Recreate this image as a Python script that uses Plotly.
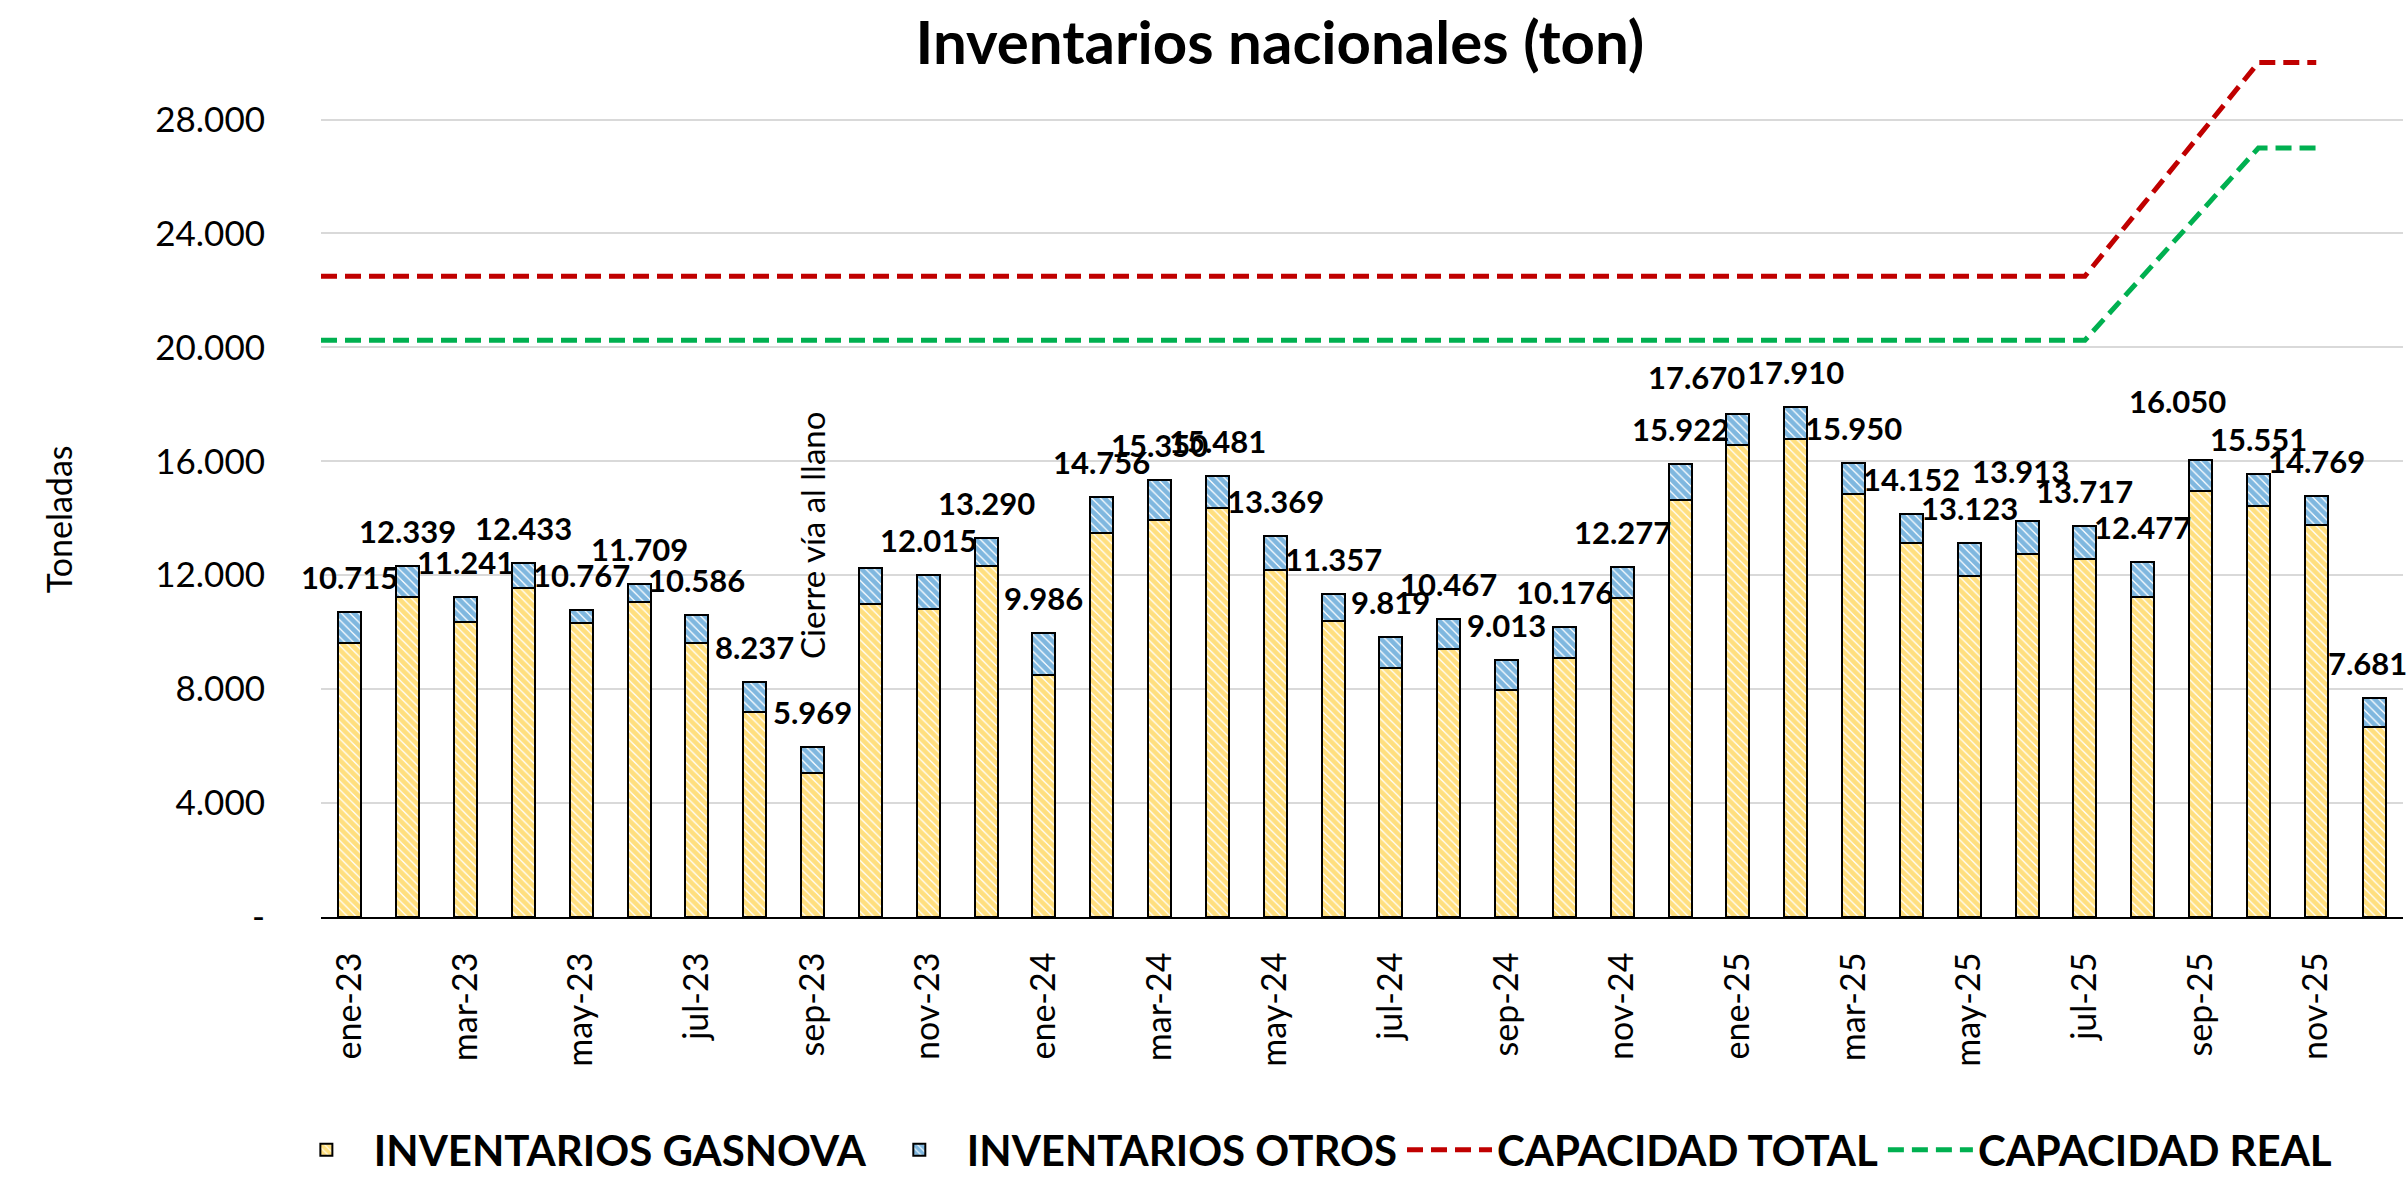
import plotly.graph_objects as go

# ---------------- data ----------------
months = ["ene-23", "feb-23", "mar-23", "abr-23", "may-23", "jun-23", "jul-23", "ago-23", "sep-23", "oct-23", "nov-23", "dic-23",
          "ene-24", "feb-24", "mar-24", "abr-24", "may-24", "jun-24", "jul-24", "ago-24", "sep-24", "oct-24", "nov-24", "dic-24",
          "ene-25", "feb-25", "mar-25", "abr-25", "may-25", "jun-25", "jul-25", "ago-25", "sep-25", "oct-25", "nov-25", "dic-25"]

inv_gasnova = [9625, 11249, 10371, 11563, 10307, 11049, 9636, 7187, 5069, 11000, 10805, 12340,
               8496, 13496, 13940, 14351, 12199, 10387, 8729, 9407, 7963, 9086, 11217, 14632,
               16560, 16800, 14840, 13122, 11973, 12743, 12577, 11247, 14940, 14441, 13769, 6681]

inv_otros = [1090, 1090, 870, 870, 460, 660, 950, 1050, 900, 1260, 1210, 950,
             1490, 1260, 1410, 1130, 1170, 970, 1090, 1060, 1050, 1090, 1060, 1290,
             1110, 1110, 1110, 1030, 1150, 1170, 1140, 1230, 1110, 1110, 1000, 1000]

# months with a printed total label (oct-23 carries the note instead)
show_label = [True, True, True, True, True, True, True, True, True, False, True, True,
              True, True, True, True, True, True, True, True, True, True, True, True,
              True, True, True, True, True, True, True, True, True, True, True, True]

cap_total = [22500, 22500, 22500, 22500, 22500, 22500, 22500, 22500, 22500, 22500, 22500, 22500,
             22500, 22500, 22500, 22500, 22500, 22500, 22500, 22500, 22500, 22500, 22500, 22500,
             22500, 22500, 22500, 22500, 22500, 22500, 22500, 25000, 27500, 30000, 30000, None]

cap_real = [20250, 20250, 20250, 20250, 20250, 20250, 20250, 20250, 20250, 20250, 20250, 20250,
            20250, 20250, 20250, 20250, 20250, 20250, 20250, 20250, 20250, 20250, 20250, 20250,
            20250, 20250, 20250, 20250, 20250, 20250, 20250, 22500, 24750, 27000, 27000, None]

y_tickvals = [0, 4000, 8000, 12000, 16000, 20000, 24000, 28000]
y_ticktext = ["-", "4.000", "8.000", "12.000", "16.000", "20.000", "24.000", "28.000"]

note_text = "Cierre vía al llano"
note_month = "sep-23"
note_level = 13400

# labels that were dragged away from their default spot in the original (month: (dx px, dy px))
label_moves = {"ene-25": (-41, 37), "jun-25": (-7, 50), "sep-25": (-23, 59), "dic-25": (-7, 35)}

# ---------------- styling ----------------
FONT = "Lato, 'Liberation Sans', sans-serif"
C_GAS = "#FFC000"
C_OTR = "#0070C0"
C_TOT = "#C00000"
C_REAL = "#00B050"

idx = list(range(len(months)))
x_min, x_max = -0.5, len(months) - 0.5


def fmt(v):
    return f"{v:,}".replace(",", ".")


totals = [g + o for g, o in zip(inv_gasnova, inv_otros)]

fig = go.Figure()

fig.add_trace(go.Bar(
    x=idx, y=inv_gasnova, name="INVENTARIOS GASNOVA",
    marker=dict(color="white", line=dict(color="black", width=2),
                pattern=dict(shape="\\", fgcolor=C_GAS, bgcolor="white", size=6, solidity=0.8)),
))
fig.add_trace(go.Bar(
    x=idx, y=inv_otros, name="INVENTARIOS OTROS",
    marker=dict(color="white", line=dict(color="black", width=2),
                pattern=dict(shape="\\", fgcolor=C_OTR, bgcolor="white", size=6, solidity=0.8)),
))

# capacity lines: the original draws them from the left edge of the plot area
fig.add_trace(go.Scatter(
    x=[x_min] + idx, y=[cap_total[0]] + cap_total, name="CAPACIDAD TOTAL", mode="lines",
    line=dict(color=C_TOT, width=5, dash="16px,8px"), connectgaps=False,
))
fig.add_trace(go.Scatter(
    x=[x_min] + idx, y=[cap_real[0]] + cap_real, name="CAPACIDAD REAL", mode="lines",
    line=dict(color=C_REAL, width=5, dash="16px,8px"), connectgaps=False,
))

annotations = []
for i, (m, t, s) in enumerate(zip(months, totals, show_label)):
    if s:
        dx, dy = label_moves.get(m, (0, 35))
        annotations.append(dict(
            x=i, y=t, xshift=dx, yshift=dy, text=fmt(t), showarrow=False,
            font=dict(family=FONT, size=31, color="black", weight="bold"),
        ))

annotations.append(dict(
    x=months.index(note_month), y=note_level, text=note_text, textangle=-90, showarrow=False,
    font=dict(family=FONT, size=33, color="black"),
))

annotations.append(dict(
    x=-0.1263, y=0.461, xref="paper", yref="paper", xanchor="center", yanchor="middle",
    text="Toneladas", textangle=-90,
    showarrow=False, font=dict(family=FONT, size=34, color="black"),
))

fig.update_layout(
    width=2407, height=1180, autosize=False,
    margin=dict(l=321, r=4, t=54, b=263, autoexpand=False),
    paper_bgcolor="white", plot_bgcolor="white",
    separators=",.",
    barmode="stack", bargap=0.6,
    title=dict(text="<b>Inventarios nacionales (ton)</b>", x=0.4606, xref="paper", xanchor="center",
               y=1 - 43 / 1180, yanchor="middle", font=dict(family=FONT, size=60, color="black")),
    font=dict(family=FONT, color="black"),
    showlegend=True,
    legend=dict(orientation="h", x=0.474, xanchor="center", y=-0.27, yanchor="middle",
                font=dict(family=FONT, size=42, color="black", weight="bold"),
                itemwidth=85, traceorder="normal"),
    annotations=annotations,
)

fig.update_xaxes(
    range=[x_min, x_max], tickvals=idx[::2], ticktext=months[::2], tickangle=-90,
    tickfont=dict(family=FONT, size=34, color="black"),
    showline=True, linecolor="black", linewidth=2, showgrid=False, zeroline=False,
    ticks="", ticklabelstandoff=20, automargin=False,
)
fig.update_yaxes(
    range=[0, 30300], tickvals=y_tickvals, ticktext=y_ticktext,
    tickfont=dict(family=FONT, size=35, color="black"),
    showgrid=True, gridcolor="#D9D9D9", gridwidth=2, zeroline=False, showline=False,
    ticks="", ticklabelstandoff=55, automargin=False,
)

fig.write_html("out.html", config={"displayModeBar": False},
               post_script="document.body.style.margin='0';")
